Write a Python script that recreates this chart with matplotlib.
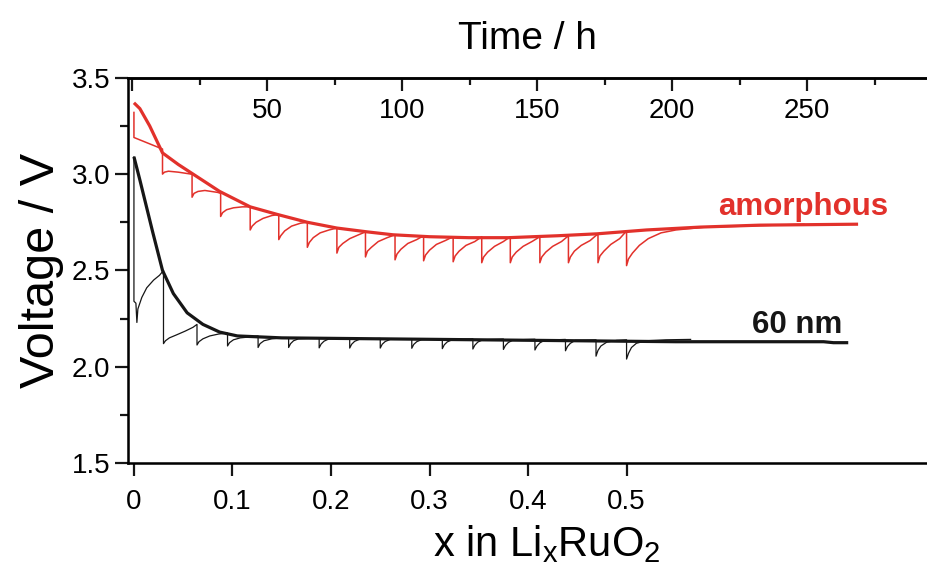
import matplotlib
matplotlib.use("Agg")
import matplotlib.pyplot as plt
from matplotlib.ticker import FixedLocator, MultipleLocator

plt.rcParams['font.family'] = ['Liberation Sans', 'DejaVu Sans']
plt.rcParams['mathtext.fontset'] = 'custom'
plt.rcParams['mathtext.rm'] = 'Liberation Sans'
plt.rcParams['mathtext.it'] = 'Liberation Sans'
plt.rcParams['mathtext.default'] = 'regular'

RED = '#e2312b'
INK = '#161616'

# quasi-equilibrium curves
amorph_x = [0.000, 0.006, 0.016, 0.029, 0.045, 0.060, 0.087, 0.118, 0.146, 0.176,
            0.206, 0.237, 0.263, 0.300, 0.340, 0.380, 0.430, 0.470, 0.520, 0.575,
            0.635, 0.735]
amorph_v = [3.37, 3.34, 3.25, 3.11, 3.05, 3.00, 2.91, 2.83, 2.79, 2.75,
            2.72, 2.70, 2.685, 2.675, 2.67, 2.67, 2.68, 2.69, 2.71, 2.725,
            2.735, 2.74]

nm60_x = [0.000, 0.006, 0.019, 0.029, 0.040, 0.054, 0.070, 0.087, 0.105, 0.150,
          0.250, 0.350, 0.450, 0.550, 0.650, 0.700, 0.710, 0.725]
nm60_v = [3.09, 2.97, 2.70, 2.50, 2.38, 2.28, 2.22, 2.18, 2.16, 2.15,
          2.145, 2.14, 2.135, 2.13, 2.13, 2.13, 2.125, 2.125]

# titration traces (pulse + relaxation)
amorph_gitt_x = [
    0.000, 0.000, 0.029,
    0.029, 0.029, 0.031, 0.035, 0.045, 0.058,
    0.059, 0.059, 0.061, 0.065, 0.072, 0.085,
    0.088, 0.088, 0.090, 0.094, 0.101, 0.110,
    0.118, 0.118, 0.120, 0.124, 0.131, 0.140,
    0.147, 0.147, 0.149, 0.153, 0.160, 0.169,
    0.176, 0.176, 0.178, 0.182, 0.189, 0.198,
    0.206, 0.206, 0.208, 0.212, 0.219, 0.228,
    0.235, 0.235, 0.237, 0.241, 0.248, 0.257,
    0.265, 0.265, 0.267, 0.271, 0.278, 0.287,
    0.294, 0.294, 0.296, 0.300, 0.307, 0.316,
    0.324, 0.324, 0.326, 0.330, 0.337, 0.346,
    0.353, 0.353, 0.355, 0.359, 0.366, 0.375,
    0.382, 0.382, 0.384, 0.388, 0.395, 0.404,
    0.412, 0.412, 0.414, 0.418, 0.425, 0.434,
    0.441, 0.441, 0.443, 0.447, 0.454, 0.463,
    0.471, 0.471, 0.473, 0.477, 0.484, 0.493,
    0.500, 0.500, 0.502, 0.506, 0.513, 0.522, 0.535, 0.550, 0.580, 0.620, 0.680,
]
amorph_gitt_v = [
    3.32, 3.19, 3.13,
    3.11, 3.00, 3.01, 3.015, 3.01, 3.00,
    3.00, 2.88, 2.90, 2.91, 2.915, 2.905,
    2.90, 2.78, 2.80, 2.815, 2.825, 2.83,
    2.83, 2.71, 2.73, 2.75, 2.77, 2.785,
    2.79, 2.66, 2.68, 2.705, 2.73, 2.745,
    2.75, 2.62, 2.645, 2.67, 2.695, 2.71,
    2.72, 2.59, 2.62, 2.64, 2.665, 2.685,
    2.70, 2.57, 2.60, 2.62, 2.65, 2.67,
    2.685, 2.555, 2.585, 2.61, 2.64, 2.66,
    2.68, 2.55, 2.58, 2.605, 2.635, 2.655,
    2.675, 2.545, 2.575, 2.60, 2.63, 2.65,
    2.675, 2.54, 2.57, 2.595, 2.625, 2.65,
    2.675, 2.54, 2.57, 2.595, 2.625, 2.65,
    2.675, 2.54, 2.57, 2.595, 2.625, 2.65,
    2.68, 2.54, 2.57, 2.60, 2.63, 2.655,
    2.69, 2.54, 2.575, 2.60, 2.635, 2.665,
    2.705, 2.525, 2.56, 2.59, 2.63, 2.665, 2.695, 2.71, 2.725, 2.73, 2.74,
]

nm60_gitt_x = [
    0.000, 0.000, 0.002, 0.003, 0.004, 0.008, 0.013, 0.020, 0.026,
    0.030, 0.030, 0.032, 0.036, 0.043, 0.052, 0.060,
    0.064, 0.064, 0.066, 0.070, 0.077, 0.086,
    0.095, 0.095, 0.097, 0.101, 0.108, 0.118,
    0.126, 0.126, 0.128, 0.132, 0.140, 0.150,
    0.157, 0.157, 0.159, 0.162, 0.167,
    0.188, 0.188, 0.190, 0.193, 0.198,
    0.219, 0.219, 0.221, 0.224, 0.229,
    0.250, 0.250, 0.252, 0.255, 0.260,
    0.282, 0.282, 0.284, 0.287, 0.292,
    0.313, 0.313, 0.315, 0.318, 0.323,
    0.344, 0.344, 0.346, 0.349, 0.354,
    0.375, 0.375, 0.377, 0.380, 0.385,
    0.407, 0.407, 0.409, 0.412, 0.417,
    0.438, 0.438, 0.440, 0.443, 0.448,
    0.469, 0.469, 0.471, 0.474, 0.480, 0.490,
    0.500, 0.500, 0.502, 0.505, 0.510, 0.520, 0.540, 0.565,
]
nm60_gitt_v = [
    3.09, 2.34, 2.33, 2.23, 2.30, 2.36, 2.41, 2.45, 2.475,
    2.50, 2.12, 2.135, 2.15, 2.165, 2.185, 2.205,
    2.22, 2.113, 2.13, 2.145, 2.16, 2.17,
    2.175, 2.108, 2.125, 2.14, 2.15, 2.155,
    2.16, 2.10, 2.12, 2.135, 2.145, 2.15,
    2.150, 2.100, 2.120, 2.135, 2.145,
    2.150, 2.098, 2.118, 2.133, 2.145,
    2.148, 2.097, 2.117, 2.132, 2.143,
    2.147, 2.097, 2.117, 2.131, 2.142,
    2.146, 2.096, 2.116, 2.130, 2.141,
    2.145, 2.094, 2.114, 2.129, 2.140,
    2.145, 2.092, 2.112, 2.128, 2.140,
    2.144, 2.090, 2.110, 2.126, 2.139,
    2.143, 2.087, 2.107, 2.124, 2.138,
    2.142, 2.083, 2.105, 2.122, 2.137,
    2.140, 2.055, 2.085, 2.108, 2.128, 2.137,
    2.140, 2.040, 2.070, 2.100, 2.122, 2.135, 2.140, 2.142,
]

x_ticks = [0, 0.1, 0.2, 0.3, 0.4, 0.5]
x_tick_labels = ['0', '0.1', '0.2', '0.3', '0.4', '0.5']
time_ticks = [0, 50, 100, 150, 200, 250]
time_tick_labels = ['', '50', '100', '150', '200', '250']
v_ticks = [1.5, 2.0, 2.5, 3.0, 3.5]
v_tick_labels = ['1.5', '2.0', '2.5', '3.0', '3.5']

fig = plt.figure(figsize=(9.27, 5.76), dpi=100)
ax = fig.add_axes([0.138, 0.196, 0.861, 0.669])

ax.plot(amorph_gitt_x, amorph_gitt_v, color=RED, lw=1.1, zorder=2)
ax.plot(nm60_gitt_x, nm60_gitt_v, color=INK, lw=0.9, zorder=2)
ax.plot(amorph_x, amorph_v, color=RED, lw=2.3, zorder=3,
        solid_capstyle='butt', solid_joinstyle='round')
ax.plot(nm60_x, nm60_v, color=INK, lw=2.3, zorder=3,
        solid_capstyle='butt', solid_joinstyle='round')

ax.text(0.593, 2.79, 'amorphous', color=RED, fontsize=22.5, fontweight='bold',
        ha='left', va='baseline')
ax.text(0.627, 2.175, '60 nm', color=INK, fontsize=22.5, fontweight='bold',
        ha='left', va='baseline')

ax.set_xlim(-0.0061, 0.804)
ax.set_ylim(1.5, 3.5)

ax.xaxis.set_major_locator(FixedLocator(x_ticks))
ax.set_xticklabels(x_tick_labels)
ax.yaxis.set_major_locator(FixedLocator(v_ticks))
ax.set_yticklabels(v_tick_labels)
ax.yaxis.set_minor_locator(MultipleLocator(0.25))

ax.spines['right'].set_visible(False)
for side in ('left', 'bottom', 'top'):
    ax.spines[side].set_linewidth(1.8)

ax.tick_params(axis='both', which='major', direction='out', length=9.5,
               width=1.6, labelsize=20, color=INK)
ax.tick_params(axis='y', which='minor', direction='out', length=5.5,
               width=1.6, color=INK)
ax.tick_params(axis='y', which='major', pad=3)
ax.tick_params(axis='x', which='major', pad=9)
ax.tick_params(top=False, right=False)

ax.set_ylabel('Voltage / V', fontsize=35, labelpad=6)
ax.set_xlabel('x in Li$_{x}$RuO$_{2}$', fontsize=30)
ax.xaxis.set_label_coords(0.525, -0.155)

# time axis on top
ax2 = ax.twiny()
ax2.set_xlim(-1.5, 294)
ax2.xaxis.set_major_locator(FixedLocator(time_ticks))
ax2.set_xticklabels(time_tick_labels)
ax2.xaxis.set_minor_locator(FixedLocator([25, 75, 125, 175, 225, 275]))
ax2.spines['right'].set_visible(False)
ax2.spines['top'].set_linewidth(1.8)
ax2.tick_params(axis='x', which='major', direction='in', length=9,
                width=1.6, labelsize=20, pad=-33, color=INK)
ax2.tick_params(axis='x', which='minor', direction='in', length=5,
                width=1.6, color=INK)
ax2.set_xlabel('Time / h', fontsize=28)
ax2.xaxis.set_label_coords(0.5, 1.055)
ax2.xaxis.label.set_va('bottom')

fig.savefig('out.png', dpi=100)
